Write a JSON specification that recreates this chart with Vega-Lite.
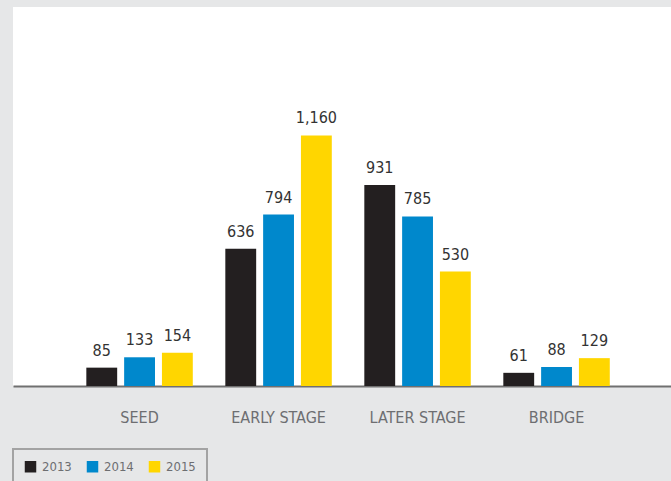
{
  "$schema": "https://vega.github.io/schema/vega-lite/v6.json",
  "width": 658,
  "height": 379,
  "autosize": {"type": "none"},
  "padding": {"left": 13, "top": 7, "right": 0, "bottom": 95},
  "background": "#e6e7e8",
  "config": {
    "view": {"fill": "#ffffff", "stroke": null},
    "font": "Liberation Sans Narrow, DejaVu Sans Condensed, sans-serif"
  },
  "data": {
    "values": [
      {"stage": "SEED", "year": "2013", "value": 85},
      {"stage": "SEED", "year": "2014", "value": 133},
      {"stage": "SEED", "year": "2015", "value": 154},
      {"stage": "EARLY STAGE", "year": "2013", "value": 636},
      {"stage": "EARLY STAGE", "year": "2014", "value": 794},
      {"stage": "EARLY STAGE", "year": "2015", "value": 1160},
      {"stage": "LATER STAGE", "year": "2013", "value": 931},
      {"stage": "LATER STAGE", "year": "2014", "value": 785},
      {"stage": "LATER STAGE", "year": "2015", "value": 530},
      {"stage": "BRIDGE", "year": "2013", "value": 61},
      {"stage": "BRIDGE", "year": "2014", "value": 88},
      {"stage": "BRIDGE", "year": "2015", "value": 129}
    ]
  },
  "encoding": {
    "x": {
      "field": "stage",
      "type": "nominal",
      "sort": ["SEED", "EARLY STAGE", "LATER STAGE", "BRIDGE"],
      "scale": {"paddingInner": 0.234, "paddingOuter": 0.484, "align": 0.545},
      "axis": {
        "title": null,
        "labelAngle": 0,
        "ticks": false,
        "tickSize": 0,
        "domain": true,
        "domainColor": "#707070",
        "domainWidth": 2,
        "labelBaseline": "alphabetic",
        "labelPadding": 36,
        "labelFontSize": 16,
        "labelColor": "#6d6e71",
        "grid": false
      }
    },
    "xOffset": {
      "field": "year",
      "type": "nominal",
      "scale": {"paddingInner": 0.184, "paddingOuter": 0}
    },
    "y": {
      "field": "value",
      "type": "quantitative",
      "scale": {"domain": [0, 1755], "nice": false},
      "axis": null
    }
  },
  "layer": [
    {
      "mark": {"type": "bar"},
      "encoding": {
        "color": {
          "field": "year",
          "type": "nominal",
          "scale": {"domain": ["2013", "2014", "2015"], "range": ["#231f20", "#0088cc", "#ffd600"]},
          "legend": {
            "title": null,
            "orient": "none",
            "legendX": 0,
            "legendY": 442,
            "direction": "horizontal",
            "symbolType": "square",
            "symbolSize": 132,
            "symbolStrokeWidth": 0,
            "symbolOpacity": 1,
            "labelFontSize": 13,
            "labelColor": "#6d6e71",
            "labelOffset": 5,
            "columnPadding": 14,
            "padding": 11,
            "fillColor": "#e6e7e8",
            "strokeColor": "#a3a3a3",
            "encode": {"legend": {"update": {"strokeWidth": {"value": 2}}}}
          }
        }
      }
    },
    {
      "mark": {"type": "text", "baseline": "alphabetic", "dy": -12, "fontSize": 16, "color": "#333333"},
      "encoding": {
        "text": {"field": "value", "type": "quantitative", "format": ",d"}
      }
    }
  ]
}
